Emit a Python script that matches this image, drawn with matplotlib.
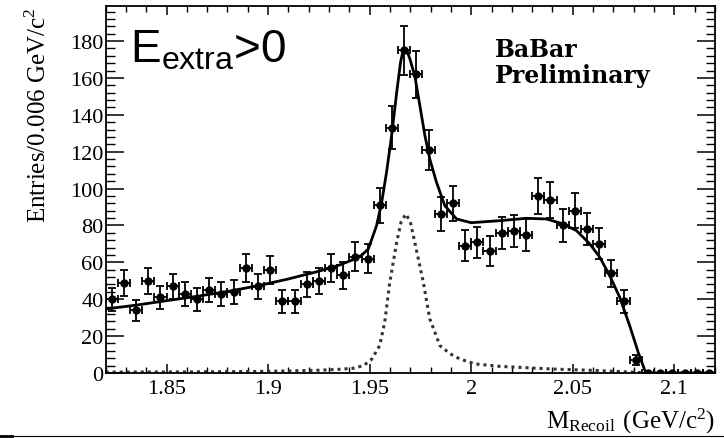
import numpy as np
import matplotlib
matplotlib.use("Agg")
import matplotlib.pyplot as plt
from matplotlib.ticker import MultipleLocator
from matplotlib.lines import Line2D

# Histogram: recoil mass, bins of 0.006 GeV/c^2 starting at 1.82
bin_lo = 1.82
bin_width = 0.006
counts = [40, 49, 34, 50, 41, 47, 43, 40, 45, 43,
          44, 57, 47, 56, 39, 39, 48, 50, 57, 53,
          63, 62, 91, 133, 175, 162, 121, 86, 92, 69,
          71, 66, 76, 77, 75, 96, 94, 80, 88, 78,
          70, 54, 39, 7, 0, 0, 0, 0, 0, 0]

# Total fit (signal + background)
fit_x = [1.82, 1.835, 1.85, 1.865, 1.88, 1.895, 1.91, 1.925, 1.935, 1.9427,
         1.946, 1.9493, 1.9534, 1.9559, 1.9583, 1.9608, 1.9633, 1.9652, 1.9662,
         1.9673, 1.9685, 1.9698, 1.9722, 1.9747, 1.9772, 1.9796, 1.9829, 1.987,
         1.9928, 2.0, 2.0141, 2.0272, 2.0371, 2.0453, 2.0518, 2.0584, 2.0633,
         2.0682, 2.0731, 2.078, 2.0822, 2.0855, 2.0864, 2.12]
fit_y = [34.7, 36.8, 39.2, 41.6, 44.2, 47.3, 51.0, 55.2, 58.5, 61.8,
         63.8, 67.2, 79.9, 92.5, 108.8, 128.7, 152.2, 168.5, 173.5,
         175.3, 174.2, 170.3, 161.2, 145.0, 128.7, 116.0, 103.4, 90.7,
         83.5, 81.5, 82.6, 83.9, 83.5, 80.8, 77.2, 70.0, 62.7,
         52.8, 41.0, 25.7, 11.2, 1.3, 0.0, 0.0]

# Signal component
sig_x = [1.82, 1.86, 1.89, 1.91, 1.925, 1.935, 1.942, 1.947, 1.951, 1.9549,
         1.9574, 1.9599, 1.9633, 1.9655, 1.9678, 1.970, 1.9722, 1.9764, 1.9796,
         1.9846, 1.9895, 1.9944, 2.002, 2.014, 2.039, 2.063, 2.081, 2.086, 2.12]
sig_y = [0.5, 0.6, 0.8, 1.1, 1.5, 2.0, 2.6, 4.0, 7.5, 14.8,
         27.5, 49.2, 70.9, 82.0, 86.2, 82.0, 70.9, 49.2, 29.3,
         14.8, 10.5, 7.6, 4.9, 3.6, 2.2, 1.3, 0.4, 0.0, 0.0]

xtick_vals = [1.85, 1.9, 1.95, 2.0, 2.05, 2.1]
xtick_text = ["1.85", "1.9", "1.95", "2", "2.05", "2.1"]
ytick_vals = [0, 20, 40, 60, 80, 100, 120, 140, 160, 180]

counts = np.array(counts, dtype=float)
mass = bin_lo + bin_width * (np.arange(len(counts)) + 0.5)

plt.rcParams["font.family"] = "Liberation Serif"

W, H = 724, 439
x0, x1, y0, y1 = 105.6, 715, 374, 7   # frame edges in pixels

fig = plt.figure(figsize=(W / 100, H / 100), dpi=100)
ax = fig.add_axes([x0 / W, 1 - y0 / H, (x1 - x0) / W, (y0 - y1) / H])


def ax_pos(px, py):
    return (px - x0) / (x1 - x0), (y0 - py) / (y0 - y1)


ax.plot(fit_x, fit_y, color="black", lw=2.0, zorder=3)
ax.plot(sig_x, sig_y, color="#333333", lw=2.2, linestyle=(0, (1, 1.3)), zorder=2)
ax.errorbar(mass, counts, yerr=np.sqrt(counts), xerr=bin_width / 2,
            fmt="o", color="black", ms=5, lw=1.3, capsize=2.6, capthick=1.3,
            zorder=4)

ax.set_xlim(1.82, 2.12)
ax.set_ylim(0, 199)
ax.set_xticks(xtick_vals)
ax.set_xticklabels(xtick_text)
ax.set_yticks(ytick_vals)
ax.xaxis.set_minor_locator(MultipleLocator(0.01))
ax.yaxis.set_minor_locator(MultipleLocator(4))

ax.tick_params(which="both", direction="in", top=True, right=True,
               labelsize=16, colors="black")
ax.tick_params(axis="y", which="major", length=13, width=1.1, pad=1.5)
ax.tick_params(axis="y", which="minor", length=6.5, width=1.0)
ax.tick_params(axis="x", which="major", length=6.5, width=1.1, pad=4.5)
ax.tick_params(axis="x", which="minor", length=4, width=1.0)
for sp in ax.spines.values():
    sp.set_linewidth(1.3)

ax.set_ylabel(r"Entries/0.006 GeV/c$^{\mathregular{2}}$", fontsize=18,
              loc="top", labelpad=14)
fig.text(x1 / W, 1 - 429 / H, r"$\mathregular{M_{Recoil}\ (GeV/c^{2})}$",
         fontsize=18, ha="right", va="baseline")

ax.text(*ax_pos(130, 63), r"$\mathregular{E_{extra}}$>0",
        transform=ax.transAxes, fontsize=33, family="Liberation Sans",
        ha="left", va="baseline")

ax.text(*ax_pos(495, 57), "BaBar", transform=ax.transAxes, fontsize=17,
        family="DejaVu Serif", weight="bold", ha="left", va="baseline")
ax.text(*ax_pos(495, 83), "Preliminary", transform=ax.transAxes, fontsize=17,
        family="DejaVu Serif", weight="bold", ha="left", va="baseline")

fig.add_artist(Line2D([0, 1], [1 - 437 / H] * 2, color="black", lw=0.8,
                      transform=fig.transFigure))
fig.add_artist(Line2D([0, 12 / W], [1 - 437 / H] * 2, color="black", lw=2,
                      transform=fig.transFigure))

fig.savefig("out.png", dpi=100)
